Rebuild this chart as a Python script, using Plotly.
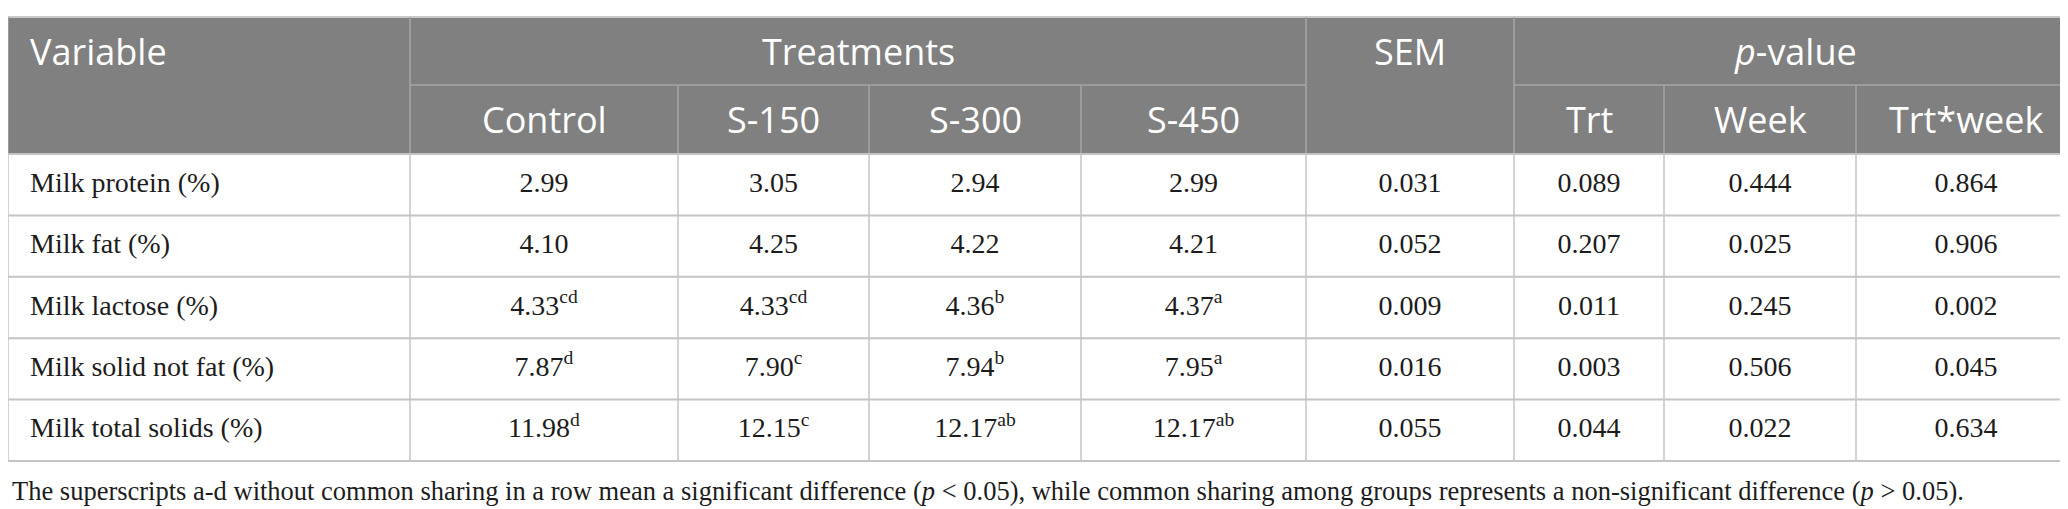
import numpy as np
import plotly.graph_objects as go

# table data
variables = ["Milk protein (%)", "Milk fat (%)", "Milk lactose (%)",
             "Milk solid not fat (%)", "Milk total solids (%)"]
control = [2.99, 4.10, 4.33, 7.87, 11.98]
control_sup = ["", "", "cd", "d", "d"]
s150 = [3.05, 4.25, 4.33, 7.90, 12.15]
s150_sup = ["", "", "cd", "c", "c"]
s300 = [2.94, 4.22, 4.36, 7.94, 12.17]
s300_sup = ["", "", "b", "b", "ab"]
s450 = [2.99, 4.21, 4.37, 7.95, 12.17]
s450_sup = ["", "", "a", "a", "ab"]
sem = [0.031, 0.052, 0.009, 0.016, 0.055]
p_trt = [0.089, 0.207, 0.011, 0.003, 0.044]
p_week = [0.444, 0.025, 0.245, 0.506, 0.022]
p_trt_week = [0.864, 0.906, 0.002, 0.045, 0.634]

group_headers = ["Variable", "Treatments", "SEM", "<i>p</i>-value"]
sub_headers = ["Control", "S-150", "S-300", "S-450", "Trt", "Week", "Trt*week"]
footnote = ("The superscripts a-d without common sharing in a row mean a significant "
            "difference (<i>p</i> < 0.05), while common sharing among groups represents "
            "a non-significant difference (<i>p</i> > 0.05).")

# layout (pixels)
W, H = 2068, 509
col_w = [402, 268, 191, 212, 225, 208, 150, 192, 220]
top, mid, head_bot, bottom = 9, 77, 146, 453
header_fill = "#808080"
header_line = "#a6a6a6"
body_line = "#c4c4c4"
text_col = "#1c1c1c"
sans = "Open Sans"
serif = "Liberation Serif"

edges = np.concatenate([[0], np.cumsum(col_w)])
centers = (edges[:-1] + edges[1:]) / 2
n = len(variables)
row_edges = np.linspace(head_bot, bottom, n + 1)
row_mid = (row_edges[:-1] + row_edges[1:]) / 2


def fmt(vals, sups=None, digits=2):
    out = []
    for i, v in enumerate(vals):
        s = f"{v:.{digits}f}"
        if sups and sups[i]:
            s += f"<sup>{sups[i]}</sup>"
        out.append(s)
    return out


columns = [
    fmt(control, control_sup), fmt(s150, s150_sup), fmt(s300, s300_sup),
    fmt(s450, s450_sup), fmt(sem, digits=3), fmt(p_trt, digits=3),
    fmt(p_week, digits=3), fmt(p_trt_week, digits=3),
]

fig = go.Figure()

body_font = dict(family=serif, size=28, color=text_col)
fig.add_trace(go.Scatter(
    x=[22] * n, y=row_mid, text=variables, mode="text",
    textposition="middle right", textfont=body_font,
    hoverinfo="skip", showlegend=False, cliponaxis=False))
for j, col in enumerate(columns, start=1):
    fig.add_trace(go.Scatter(
        x=[centers[j]] * n, y=row_mid, text=col, mode="text",
        textposition="middle center", textfont=body_font,
        hoverinfo="skip", showlegend=False, cliponaxis=False))

shapes = [dict(type="rect", x0=0, x1=W, y0=top, y1=head_bot,
               fillcolor=header_fill, line_width=0, layer="below")]


def hline(y, x0, x1, color, w=1.5):
    shapes.append(dict(type="line", x0=x0, x1=x1, y0=y, y1=y,
                       line=dict(color=color, width=w)))


def vline(x, y0, y1, color, w=1.5):
    shapes.append(dict(type="line", x0=x, x1=x, y0=y0, y1=y1,
                       line=dict(color=color, width=w)))


# header grid
hline(top, 0, W, "#c8c8c8", 2)
hline(mid, edges[1], edges[5], header_line)
hline(mid, edges[6], edges[9], header_line)
for k in (1, 5, 6):
    vline(edges[k], top, head_bot, header_line)
for k in (2, 3, 4, 7, 8):
    vline(edges[k], mid, head_bot, header_line)
vline(0, top, head_bot, header_line)
vline(W, top, head_bot, header_line)

# body grid
for y in row_edges:
    hline(y, 0, W, body_line, 2)
for x in edges:
    vline(x, head_bot, bottom, body_line)

head_font = dict(family=sans, size=36, color="white")
ann = []
r1 = (top + mid) / 2
r2 = (mid + head_bot) / 2
ann.append(dict(x=20, y=r1, text=group_headers[0], xanchor="left"))
ann.append(dict(x=(edges[1] + edges[5]) / 2, y=r1, text=group_headers[1]))
ann.append(dict(x=centers[5], y=r1, text=group_headers[2]))
ann.append(dict(x=(edges[6] + edges[9]) / 2, y=r1, text=group_headers[3]))
sub_cols = [1, 2, 3, 4, 6, 7, 8]
for label, k in zip(sub_headers, sub_cols):
    ann.append(dict(x=centers[k], y=r2, text=label))
for a in ann:
    a.update(xref="x", yref="y", showarrow=False, font=head_font, yanchor="middle")
ann.append(dict(x=2, y=483, xref="x", yref="y", text=footnote, showarrow=False,
                xanchor="left", yanchor="middle",
                font=dict(family=serif, size=26.5, color=text_col)))

fig.update_layout(
    width=W, height=H,
    margin=dict(l=0, r=0, t=0, b=0),
    paper_bgcolor="white", plot_bgcolor="white",
    xaxis=dict(range=[0, W], visible=False, fixedrange=True),
    yaxis=dict(range=[H, 0], visible=False, fixedrange=True),
    shapes=shapes, annotations=ann,
)

fig.write_html("out.html")
